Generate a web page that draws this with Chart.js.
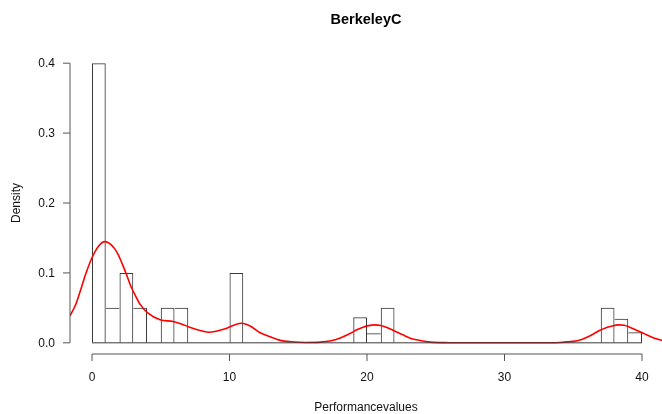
<!DOCTYPE html>
<html>
<head>
<meta charset="utf-8">
<script src="https://cdn.jsdelivr.net/npm/chart.js@4/dist/chart.umd.min.js"></script>
<style>
  html, body { margin: 0; padding: 0; background: #fff; overflow: hidden; }
  #wrap { width: 662px; height: 414px; }
</style>
</head>
<body>
<div id="wrap"><canvas id="c" width="662" height="414"></canvas></div>
<script>
// Text
const chartTitle = 'BerkeleyC';
const xTitle = 'Performancevalues';
const yTitle = 'Density';

// Histogram: unit-width bins starting at 0, and their densities
const binStarts = [
   0,  1,  2,  3,  4,  5,  6,  7,  8,  9,
  10, 11, 12, 13, 14, 15, 16, 17, 18, 19,
  20, 21, 22, 23, 24, 25, 26, 27, 28, 29,
  30, 31, 32, 33, 34, 35, 36, 37, 38, 39
];
const binDensity = [
  0.4,  0.05, 0.1,  0.05, 0,    0.05, 0.05, 0,    0,    0,
  0.1,  0,    0,    0,    0,    0,    0,    0,    0,    0.0367,
  0.0138, 0.05, 0,  0,    0,    0,    0,    0,    0,    0,
  0,    0,    0,    0,    0,    0,    0,    0.05, 0.0343, 0.0152
];

// Kernel density estimate (red curve)
const curveX = [
  -1.6, -1.2, -0.87, -0.5, -0.02, 0.5, 0.95, 1.4, 1.8, 2.2,
  2.52, 2.8, 3.13, 3.5, 4.1, 4.95, 5.9, 6.5, 7.1, 7.8,
  8.46, 9.1, 9.8, 10.4, 10.9, 11.5, 12.2, 12.9, 13.7, 14.5,
  15.5, 16.6, 17.3, 17.8, 18.3, 18.8, 19.3, 19.7, 20.2, 20.6,
  21.0, 21.4, 22.0, 22.6, 23.1, 23.6, 24.6, 26, 28, 30,
  32.6, 34, 35.0, 35.5, 36.0, 36.5, 36.9, 37.3, 37.7, 38.3,
  38.7, 39.1, 39.6, 40.1, 40.6, 41.1, 41.5
];
const curveY = [
  0.0386, 0.054, 0.073, 0.096, 0.121, 0.139, 0.1448, 0.140, 0.130, 0.113,
  0.097, 0.082, 0.0686, 0.055, 0.042, 0.0329, 0.0305, 0.027, 0.0224, 0.018,
  0.0152, 0.017, 0.021, 0.026, 0.028, 0.024, 0.0148, 0.009, 0.0035, 0.0015,
  0.0005, 0.001, 0.0025, 0.005, 0.009, 0.0138, 0.019, 0.0224, 0.025, 0.0257,
  0.0248, 0.0224, 0.017, 0.0114, 0.007, 0.0043, 0.001, 0.0002, 0, 0,
  0, 0.0005, 0.002, 0.004, 0.008, 0.013, 0.0176, 0.021, 0.0233, 0.0257,
  0.025, 0.0224, 0.018, 0.0138, 0.009, 0.0053, 0.0033
];

// Axis ticks
const xTicks = [0, 10, 20, 30, 40];
const xTickLabels = ['0', '10', '20', '30', '40'];
const yTicks = [0, 0.1, 0.2, 0.3, 0.4];
const yTickLabels = ['0.0', '0.1', '0.2', '0.3', '0.4'];

const FONT = '"Liberation Sans", Arial, Helvetica, sans-serif';
const AXIS_COLOR = '#555';
const BAR_COLOR = '#3a3a3a';

// Shared bin edges are drawn once, by the taller of the two neighbours
function binBorder(ctx) {
  const i = ctx.dataIndex;
  const h = binDensity[i];
  const prev = i > 0 ? binDensity[i - 1] : 0;
  const next = i < binDensity.length - 1 ? binDensity[i + 1] : 0;
  return {
    top: 1,
    bottom: 0,
    left: prev >= h && prev > 0 ? 0 : 1,
    right: next > h ? 0 : 1
  };
}

// Base-graphics style axes, titles and the histogram baseline
const frame = {
  id: 'frame',
  afterDraw(chart) {
    const { ctx, chartArea, scales } = chart;
    const xs = scales.x, ys = scales.y;
    ctx.save();
    ctx.lineWidth = 1;

    // histogram baseline across all bins
    const y0 = ys.getPixelForValue(0);
    ctx.strokeStyle = BAR_COLOR;
    ctx.beginPath();
    ctx.moveTo(xs.getPixelForValue(binStarts[0]), y0);
    ctx.lineTo(xs.getPixelForValue(binStarts[binStarts.length - 1] + 1), y0);
    ctx.stroke();

    ctx.strokeStyle = AXIS_COLOR;
    // x axis
    const ax = chartArea.bottom;
    ctx.beginPath();
    ctx.moveTo(xs.getPixelForValue(xTicks[0]), ax);
    ctx.lineTo(xs.getPixelForValue(xTicks[xTicks.length - 1]), ax);
    xTicks.forEach(v => {
      const px = xs.getPixelForValue(v);
      ctx.moveTo(px, ax);
      ctx.lineTo(px, ax + 7);
    });
    ctx.stroke();

    // y axis
    const ay = chartArea.left;
    ctx.beginPath();
    ctx.moveTo(ay, ys.getPixelForValue(yTicks[0]));
    ctx.lineTo(ay, ys.getPixelForValue(yTicks[yTicks.length - 1]));
    yTicks.forEach(v => {
      const py = ys.getPixelForValue(v);
      ctx.moveTo(ay, py);
      ctx.lineTo(ay - 7, py);
    });
    ctx.stroke();

    ctx.fillStyle = '#111';
    ctx.font = '12px ' + FONT;
    ctx.textAlign = 'center';
    ctx.textBaseline = 'middle';
    xTicks.forEach((v, i) => {
      ctx.fillText(xTickLabels[i], xs.getPixelForValue(v), ax + 24);
    });
    ctx.textAlign = 'right';
    yTicks.forEach((v, i) => {
      ctx.fillText(yTickLabels[i], ay - 15, ys.getPixelForValue(v) + 1);
    });

    const cx = (chartArea.left + chartArea.right) / 2;
    const cy = (chartArea.top + chartArea.bottom) / 2;
    ctx.textAlign = 'center';
    ctx.fillText(xTitle, cx, ax + 54);

    ctx.save();
    ctx.translate(17, cy);
    ctx.rotate(-Math.PI / 2);
    ctx.fillText(yTitle, 0, 0);
    ctx.restore();

    ctx.font = 'bold 14.5px ' + FONT;
    ctx.fillStyle = '#000';
    ctx.fillText(chartTitle, cx, 20);
    ctx.restore();
  }
};

new Chart(document.getElementById('c'), {
  type: 'bar',
  data: {
    datasets: [
      {
        type: 'line',
        data: curveX.map((x, i) => ({ x, y: curveY[i] })),
        borderColor: '#ff0000',
        borderWidth: 1.6,
        pointRadius: 0,
        cubicInterpolationMode: 'monotone',
        fill: false,
        order: 0
      },
      {
        type: 'bar',
        data: binStarts.map((s, i) => ({ x: s + 0.5, y: binDensity[i] })),
        backgroundColor: 'rgba(0,0,0,0)',
        borderColor: BAR_COLOR,
        borderWidth: binBorder,
        borderSkipped: false,
        inflateAmount: 0,
        barPercentage: 1,
        categoryPercentage: 1,
        order: 1
      }
    ]
  },
  options: {
    responsive: false,
    animation: false,
    devicePixelRatio: 1,
    layout: { padding: { left: 70, right: 0, top: 52, bottom: 60 } },
    plugins: {
      legend: { display: false },
      tooltip: { enabled: false },
      title: { display: false }
    },
    scales: {
      x: { type: 'linear', min: -1.6, max: 41.4545, offset: false, display: false },
      y: { type: 'linear', min: -0.016, max: 0.416, display: false }
    }
  },
  plugins: [frame]
});
</script>
</body>
</html>
